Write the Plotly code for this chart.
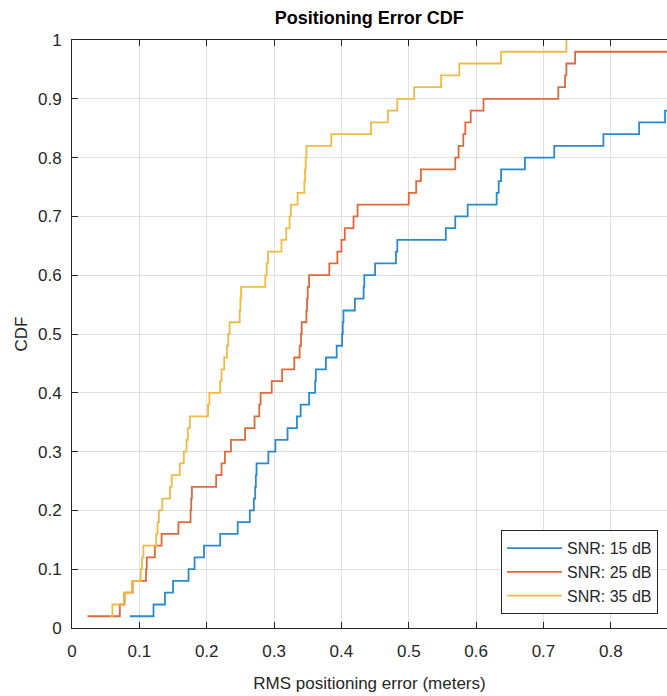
import plotly.graph_objects as go

# Sorted RMS positioning errors (meters), one value per trial (50 trials -> CDF steps of 0.02)
snr_labels = ["SNR: 15 dB", "SNR: 25 dB", "SNR: 35 dB"]

err_snr15 = [0.086, 0.121, 0.138, 0.150, 0.173, 0.182, 0.196, 0.220, 0.246, 0.264,
             0.270, 0.272, 0.273, 0.274, 0.2915, 0.302, 0.320, 0.334, 0.3395, 0.352,
             0.361, 0.362, 0.377, 0.393, 0.401, 0.402, 0.403, 0.420, 0.433, 0.434,
             0.450, 0.481, 0.483, 0.555, 0.569, 0.5875, 0.6305, 0.6335, 0.637, 0.6725,
             0.716, 0.789, 0.842, 0.8805, 0.91, 0.95, 0.99, 1.04, 1.10, 1.22]

err_snr25 = [0.023, 0.071, 0.078, 0.090, 0.110, 0.111, 0.123, 0.133, 0.158, 0.176,
             0.177, 0.178, 0.214, 0.222, 0.227, 0.236, 0.257, 0.271, 0.278, 0.280,
             0.2965, 0.312, 0.330, 0.338, 0.340, 0.341, 0.348, 0.349, 0.350, 0.352,
             0.382, 0.394, 0.400, 0.405, 0.418, 0.424, 0.500, 0.511, 0.518, 0.569,
             0.574, 0.581, 0.584, 0.592, 0.611, 0.722, 0.732, 0.734, 0.747, 0.95]

err_snr35 = [0.057, 0.060, 0.077, 0.089, 0.102, 0.104, 0.106, 0.125, 0.127, 0.129,
             0.134, 0.1455, 0.148, 0.160, 0.166, 0.170, 0.172, 0.175, 0.202, 0.204,
             0.220, 0.222, 0.226, 0.230, 0.232, 0.234, 0.249, 0.250, 0.251, 0.287,
             0.289, 0.291, 0.311, 0.318, 0.323, 0.325, 0.335, 0.345, 0.346, 0.347,
             0.348, 0.385, 0.444, 0.469, 0.483, 0.508, 0.548, 0.575, 0.637, 0.734]

n_trials = 50
x_ticks = [0, 0.1, 0.2, 0.3, 0.4, 0.5, 0.6, 0.7, 0.8]
x_tick_labels = ["0", "0.1", "0.2", "0.3", "0.4", "0.5", "0.6", "0.7", "0.8"]
y_ticks = [0, 0.1, 0.2, 0.3, 0.4, 0.5, 0.6, 0.7, 0.8, 0.9, 1]
y_tick_labels = ["0", "0.1", "0.2", "0.3", "0.4", "0.5", "0.6", "0.7", "0.8", "0.9", "1"]

colors = ["#2a8ad0", "#e0693a", "#efbb45"]
series = [err_snr15, err_snr25, err_snr35]

FONT = "Liberation Sans, Arial, Helvetica, sans-serif"
INK = "#262626"

fig = go.Figure()
for name, errs, col in zip(snr_labels, series, colors):
    cdf = [(i + 1) / n_trials for i in range(len(errs))]
    fig.add_trace(go.Scatter(
        x=errs, y=cdf, mode="lines", name=name,
        line=dict(color=col, width=1.8, shape="hv"),
    ))

axis_common = dict(
    showline=True, linecolor=INK, linewidth=1,
    showgrid=True, gridcolor="#e0e0e0", gridwidth=1,
    ticks="inside", ticklen=6, tickcolor=INK, tickwidth=1,
    tickfont=dict(family=FONT, size=17, color=INK),
    zeroline=False, automargin=False,
)

fig.update_xaxes(
    **axis_common,
    range=[0, 0.8834], mirror="ticks",
    tickvals=x_ticks, ticktext=x_tick_labels,
    ticklabelstandoff=8,
    title=dict(text="RMS positioning error (meters)",
               font=dict(family=FONT, size=17, color=INK), standoff=16),
)
fig.update_yaxes(
    **axis_common,
    range=[0, 1], mirror=False,
    tickvals=y_ticks, ticktext=y_tick_labels,
    ticklabelstandoff=6,
    title=dict(text="CDF", font=dict(family=FONT, size=17, color=INK), standoff=6),
)

fig.update_layout(
    width=667, height=696,
    margin=dict(l=72, r=0, t=40, b=68),
    paper_bgcolor="white", plot_bgcolor="white",
    title=dict(text="<b>Positioning Error CDF</b>", x=0.5535, xanchor="center",
               y=0.974, yanchor="middle",
               font=dict(family=FONT, size=18, color="black")),
    legend=dict(
        x=0.721, y=0.0235, xanchor="left", yanchor="bottom",
        bgcolor="white", bordercolor=INK, borderwidth=1,
        font=dict(family=FONT, size=16, color=INK),
        itemwidth=55, tracegroupgap=0,
    ),
    showlegend=True,
)

fig.write_html(
    "out.html",
    config={"displayModeBar": False},
    post_script="document.body.style.margin='0';document.body.style.overflow='hidden';",
)
